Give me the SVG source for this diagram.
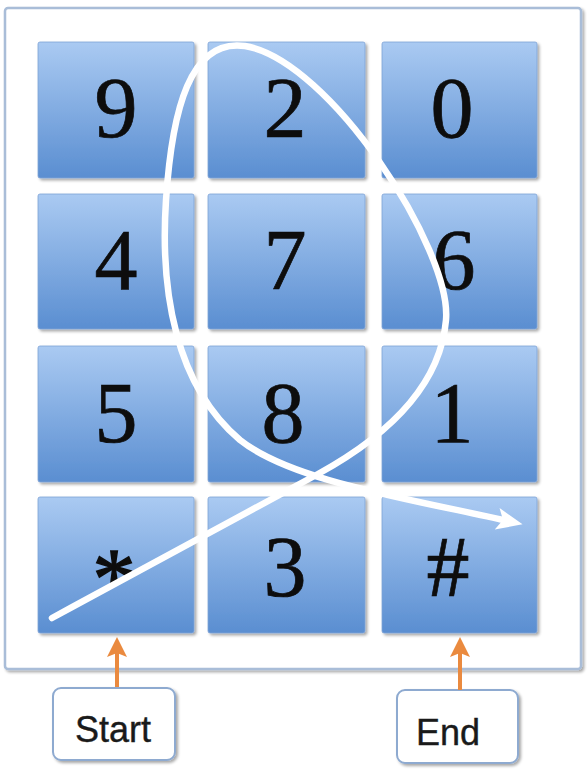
<svg xmlns="http://www.w3.org/2000/svg" width="588" height="774" viewBox="0 0 588 774">
<defs>
<linearGradient id="keyGrad" x1="0" y1="0" x2="0" y2="1">
<stop offset="0" stop-color="#aacaf2"/>
<stop offset="1" stop-color="#5a8ed1"/>
</linearGradient>
<filter id="sh" x="-10%" y="-10%" width="130%" height="130%">
<feGaussianBlur in="SourceAlpha" stdDeviation="1.5"/>
<feOffset dx="1.5" dy="2" result="b"/>
<feComponentTransfer><feFuncA type="linear" slope="0.35"/></feComponentTransfer>
<feMerge><feMergeNode/><feMergeNode in="SourceGraphic"/></feMerge>
</filter>
<marker id="whiteHead" markerUnits="userSpaceOnUse" markerWidth="30" markerHeight="30" viewBox="-2 -15 30 30" refX="6" refY="0" orient="auto">
<path d="M26,0 L0,-11 L6,0 L0,11 Z" fill="#ffffff"/>
</marker>
<marker id="orangeHead" markerUnits="userSpaceOnUse" markerWidth="24" markerHeight="24" viewBox="-2 -12 24 24" refX="4" refY="0" orient="auto">
<path d="M20,0 L0,-10 L4,0 L0,10 Z" fill="#ea8a3f"/>
</marker>
</defs>
<style>
.key{fill:url(#keyGrad);stroke:#7fa3d6;stroke-width:0.8;filter:url(#sh)}
.dig{font-family:"Liberation Serif","Times New Roman",serif;font-size:86px;fill:#0d0d0d;stroke:#0d0d0d;stroke-width:0.7;text-anchor:middle}
.lbl{font-family:"Liberation Sans",Arial,sans-serif;font-size:36px;fill:#1a1a1a;stroke:#1a1a1a;stroke-width:0.4;text-anchor:middle}
.box{fill:#ffffff;stroke:#8eaad0;stroke-width:2;filter:url(#sh)}
</style>
<rect width="588" height="774" fill="#ffffff"/>
<g id="frame">
<rect x="5" y="8" width="576" height="661" rx="3" fill="#ffffff" stroke="#a9bdd8" stroke-width="2.5" filter="url(#sh)"/>
</g>
<g id="key-9"><rect class="key" x="38" y="42" width="156" height="136" rx="2"/><text class="dig" x="116" y="137">9</text></g>
<g id="key-2"><rect class="key" x="208" y="42" width="157" height="136" rx="2"/><text class="dig" x="285" y="137">2</text></g>
<g id="key-0"><rect class="key" x="382" y="42" width="155" height="136" rx="2"/><text class="dig" x="452" y="137">0</text></g>
<g id="key-4"><rect class="key" x="38" y="194" width="156" height="135" rx="2"/><text class="dig" x="116" y="289">4</text></g>
<g id="key-7"><rect class="key" x="208" y="194" width="157" height="135" rx="2"/><text class="dig" x="285" y="289">7</text></g>
<g id="key-6"><rect class="key" x="382" y="194" width="155" height="135" rx="2"/><text class="dig" x="454" y="289">6</text></g>
<g id="key-5"><rect class="key" x="38" y="346" width="156" height="136" rx="2"/><text class="dig" x="116" y="442">5</text></g>
<g id="key-8"><rect class="key" x="208" y="346" width="157" height="136" rx="2"/><text class="dig" x="283" y="442">8</text></g>
<g id="key-1"><rect class="key" x="382" y="346" width="155" height="136" rx="2"/><text class="dig" x="452" y="442">1</text></g>
<g id="key-star"><rect class="key" x="38" y="497" width="156" height="136" rx="2"/><text class="dig" x="114" y="608" style="stroke-width:1.5">*</text></g>
<g id="key-3"><rect class="key" x="208" y="497" width="157" height="136" rx="2"/><text class="dig" x="285" y="596">3</text></g>
<g id="key-hash"><rect class="key" x="382" y="497" width="155" height="136" rx="2"/><text class="dig" x="448" y="596">#</text></g>
<g id="start"><rect class="box" x="53" y="688" width="122" height="72" rx="8"/><text class="lbl" x="113" y="742">Start</text></g>
<g id="end"><rect class="box" x="397" y="690" width="121" height="73" rx="8"/><text class="lbl" x="448" y="745">End</text></g>
<g id="connectors">
<path d="M52,618 C150,565 250,510 318,474 C380,440 440,390 446,320 C452,250 330,60 245,46 C190,38 172,110 166,200 C160,290 175,385 240,440 C290,480 400,497 503,520" fill="none" stroke="#ffffff" stroke-width="6.5" stroke-linecap="round" marker-end="url(#whiteHead)"/>
<line x1="117" y1="687" x2="117" y2="653" stroke="#ea8a3f" stroke-width="4" marker-end="url(#orangeHead)"/>
<line x1="460" y1="690" x2="460" y2="653" stroke="#ea8a3f" stroke-width="4" marker-end="url(#orangeHead)"/>
</g>
</svg>
